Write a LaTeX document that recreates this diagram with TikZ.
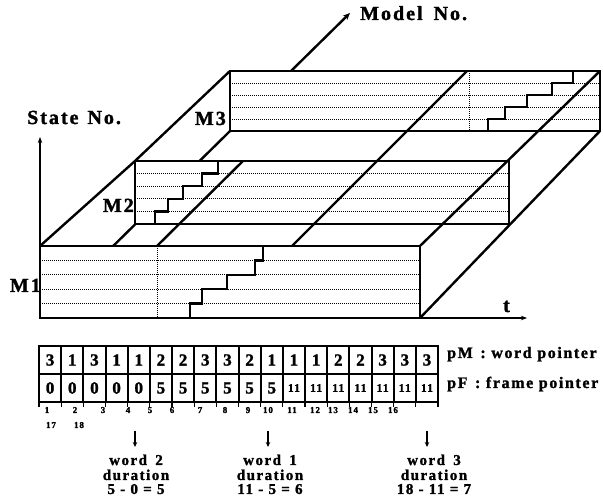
\documentclass[tikz,border=0pt]{standalone}
\usepackage{fontspec}
\newfontfamily\lbl{Liberation Serif}[LetterSpace=10, BoldFeatures={FakeBold=1.5}]
\usetikzlibrary{arrows.meta}
\tikzset{
  edge/.style={line width=2pt},
  depth/.style={line width=2.4pt},
  dots/.style={line width=0.9pt, dash pattern=on 0.9pt off 1.1pt},
  stair/.style={line width=2.4pt, line join=miter},
  face/.style={fill=white, draw, line width=2pt},
  big/.style={font={\lbl\bfseries\fontsize{20}{22}\selectfont}, inner sep=0pt},
  mid/.style={font={\lbl\bfseries\fontsize{16}{18}\selectfont}, inner sep=0pt},
  wtxt/.style={font={\lbl\bfseries\fontsize{15}{17}\selectfont}, inner sep=0pt, anchor=base},
  cellbox/.style={draw, line width=2pt, minimum width=22.17pt, minimum height=28pt, inner sep=0pt,
     font={\lbl\bfseries\fontsize{17}{18}\selectfont}},
  smallcell/.style={cellbox, font={\lbl\bfseries\fontsize{11.5}{12}\selectfont}},
  fn/.style={font={\lbl\bfseries\fontsize{9}{10}\selectfont}, inner sep=0pt, anchor=base},
  warrow/.style={line width=1.8pt, -{Stealth[length=5pt,width=4.5pt]}},
  axarrow/.style={edge, -{Stealth[length=6pt,width=4.5pt]}}
}
\begin{document}
\begin{tikzpicture}[x=1pt,y=-1pt]
\useasboundingbox (0,0) rectangle (603,502);

% model axis (floor-left edge), partly hidden by faces
\coordinate (Bs) at (40,318);
\coordinate (Be) at (350,13);
\draw[depth,-{Stealth[length=7pt,width=6pt]}] (Bs) -- (Be);

% M3 face
\draw[face] (230,71) rectangle (600,131);
\foreach \y in {83,95,107,119} \draw[dots] (230,\y) -- (600,\y);
\draw[dots] (469,71) -- (469,131);
\draw[stair] (469,131) -| (488,119) -| (505,107) -| (527,95) -| (552,83) -| (573,71) -- (600,71);

% M2 face
\draw[face] (135,161) rectangle (509,224);
\foreach \y in {173.6,186.2,198.8,211.4} \draw[dots] (135,\y) -- (509,\y);
\draw[stair] (155,224) |- (168,211.4) |- (183,198.8) |- (202,186.2) |- (218,173.6) -- (218,161);

% M1 face
\draw[face] (40,246) rectangle (420,318);
\foreach \y in {260.4,274.8,289.2,303.6} \draw[dots] (40,\y) -- (420,\y);
\draw[dots] (157,246) -- (157,318);
\draw[stair] (157,318) -| (190,303.6) -| (202,289.2) -| (227,274.8) -| (255,260.4) -| (263,246);

% depth lines
\draw[depth] (40,246) -- (135,161) -- (230,71);
\draw[depth] (420,246) -- (600,71);
\draw[depth] (420,318) -- (600,131);
\draw[depth] (157,246) -- (243,161);
\draw[depth] (292,246) -- (467,71);

% axes
\coordinate (O) at (40,318);
\coordinate (Sy) at (40,137);
\coordinate (Tx0) at (420,318);
\coordinate (Tx) at (527,318);
\draw[axarrow] (O) -- (Sy);
\draw[axarrow] (Tx0) -- (Tx);

% labels
\node[big, anchor=base west] (lmodel) at (360,20) {Model\hspace{4pt} No.};
\node[big, anchor=base west] (lstate) at (27,124) {State\hspace{2pt} No.};
\node[big, anchor=base east] (lm3) at (226,125) {M3};
\node[big, anchor=base east] (lm2) at (134,212) {M2};
\node[big, anchor=base east] (lm1) at (41,292) {M1};
\node[big, anchor=base west] (lt) at (503,312) {t};

% pointer table
\foreach \v [count=\i] in {3,1,3,1,1,2,2,3,3,2,1,1,1,2,2,3,3,3}
  \node[cellbox] (pm\i) at ({39+22.17*(\i-0.5)},360) {\v};
\foreach \v [count=\i] in {0,0,0,0,0,5,5,5,5,5,5}
  \node[cellbox] (pf\i) at ({39+22.17*(\i-0.5)},388) {\v};
\foreach \i in {12,...,18}
  \node[smallcell] (pf\i) at ({39+22.17*(\i-0.5)},388) {11};
\foreach \i in {0,...,18}
  \draw[line width=1.2pt] ({39+22.17*\i},402) -- ++(0,5);

\node[mid, anchor=base west] (lpm) at (447,358) {pM\hspace{2pt} : word pointer};
\node[mid, anchor=base west] (lpf) at (447,388) {pF\hspace{2pt} : frame pointer};

% frame numbers
\foreach \x [count=\i] in {47,75,103,128,150,172,200,225,248,268,292,315,333,353,373,393}
  \node[fn] (fr\i) at (\x,413) {\i};
\node[fn] (fr17) at (51,428) {17};
\node[fn] (fr18) at (79,428) {18};

% word arrows
\coordinate (a1s) at (135,431); \coordinate (a1e) at (135,447);
\coordinate (a2s) at (268,431); \coordinate (a2e) at (268,447);
\coordinate (a3s) at (427,431); \coordinate (a3e) at (427,447);
\draw[warrow] (a1s) -- (a1e);
\draw[warrow] (a2s) -- (a2e);
\draw[warrow] (a3s) -- (a3e);

% word texts
\node[wtxt] (w2a) at (136,465) {word\hspace{3pt} 2};
\node[wtxt] (w2b) at (136,480) {duration};
\node[wtxt] (w2c) at (136,494) {5 - 0 = 5};
\node[wtxt] (w1a) at (270,465) {word\hspace{3pt} 1};
\node[wtxt] (w1b) at (270,480) {duration};
\node[wtxt] (w1c) at (270,494) {11 - 5 = 6};
\node[wtxt] (w3a) at (434,465) {word\hspace{3pt} 3};
\node[wtxt] (w3b) at (434,480) {duration};
\node[wtxt] (w3c) at (434,494) {18 - 11 = 7};
\end{tikzpicture}
\end{document}
